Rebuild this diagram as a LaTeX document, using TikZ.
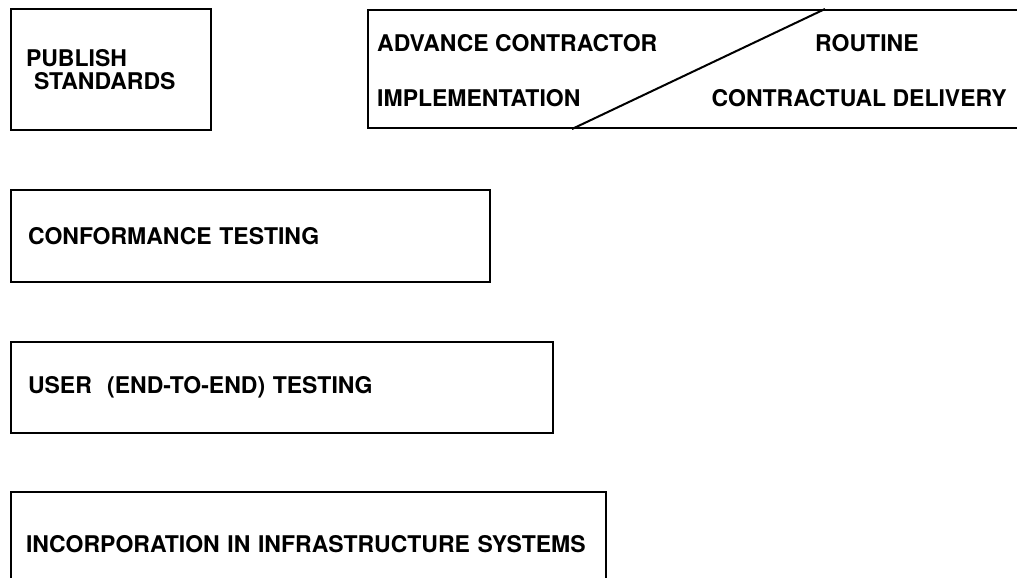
\documentclass[tikz,border=0pt]{standalone}
\usepackage{fontspec}
\setmainfont{TeX Gyre Heros}
\usetikzlibrary{positioning,calc}
\tikzset{
  lbl/.style={font=\fontsize{23}{23}\selectfont\bfseries,inner sep=0pt},
  stagebox/.style={draw,line width=2pt,lbl,anchor=north west,align=left,inner xsep=17pt},
}

\begin{document}
\begin{tikzpicture}[x=1pt,y=-1pt]
  \useasboundingbox (0,0) rectangle (1017,578);
  % first step
  \node[stagebox,inner xsep=15pt,text width=170pt,minimum height=121pt] (publish) at (10,8)
    {PUBLISH\\\hspace*{8pt}STANDARDS};
  % split box, open to the right
  \node[draw,line width=2pt,anchor=north west,inner sep=0pt,
        minimum width=680pt,minimum height=118pt] (plan) at (367,9) {};
  \node[lbl,anchor=west] (advance) at (377,43) {ADVANCE CONTRACTOR};
  \node[lbl,anchor=west] (impl) at (377,98) {IMPLEMENTATION};
  \node[lbl,anchor=west] (routine) at (815,43) {ROUTINE};
  \node[lbl,anchor=east] (delivery) at (1007,98) {CONTRACTUAL DELIVERY};
  \draw[line width=2pt] ([xshift=205pt]plan.south west) -- ([xshift=458pt]plan.north west);
  % testing stages
  \node[stagebox,text width=445pt,minimum height=92pt] (conform) at (10,189)
    {CONFORMANCE TESTING};
  \node[stagebox,text width=508pt,minimum height=91pt] (user) at (10,341)
    {USER\ \ (END-TO-END) TESTING};
  \node[stagebox,text width=565pt,minimum height=104pt,inner xsep=15pt] (infra) at (10,491)
    {INCORPORATION IN INFRASTRUCTURE SYSTEMS};
\end{tikzpicture}
\end{document}
